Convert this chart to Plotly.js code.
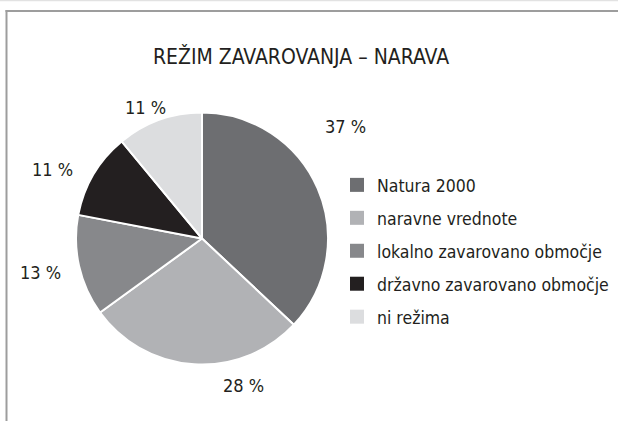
<!DOCTYPE html>
<html>
<head>
<meta charset="utf-8">
<script src="https://cdn.plot.ly/plotly-3.0.1.min.js"></script>
<style>html,body{margin:0;padding:0;background:#fff}#chart{width:618px;height:421px}</style>
</head>
<body>
<div id="chart"></div>
<script>
var categories = ["Natura 2000", "naravne vrednote", "lokalno zavarovano območje", "državno zavarovano območje", "ni režima"];
var shares = [37, 28, 13, 11, 11];
var sliceColors = ["#6d6e71", "#b1b2b5", "#87888b", "#231f20", "#dcdddf"];
var titleText = "REŽIM ZAVAROVANJA – NARAVA";

var FONT = "'Liberation Sans Narrow', 'DejaVu Sans Condensed', Roboto, sans-serif";

// percentage label placement (paper px) for each slice
var labelPos = [[345,126],[243,385],[40,272],[52,169],[145,108]];

var W = 618, H = 421;
var annotations = shares.map(function(v, i){
  return {
    text: v + " %", xref: "paper", yref: "paper",
    x: labelPos[i][0]/W, y: 1 - labelPos[i][1]/H,
    xanchor: "center", yanchor: "middle", showarrow: false,
    font: {family: FONT, size: 18, color: "#231f20"}
  };
});

var pieTrace = {
  type: "pie",
  labels: categories,
  values: shares,
  sort: false,
  direction: "clockwise",
  rotation: 0,
  marker: {colors: sliceColors, line: {color: "#ffffff", width: 2}},
  textinfo: "none",
  hoverinfo: "none",
  showlegend: false,
  domain: {x: [76/W, 328/W], y: [1 - 364.5/H, 1 - 112.5/H]}
};

// legend entries (one per category, same colours as slices)
var legendTraces = categories.map(function(c, i){
  return {
    type: "scatter", mode: "markers", x: [null], y: [null],
    name: c, legendgroup: "g" + i, showlegend: true, hoverinfo: "none",
    marker: {symbol: "square", size: 14, color: sliceColors[i], line: {width: 0}}
  };
});

var layout = {
  width: W, height: H,
  margin: {l: 0, r: 0, t: 0, b: 0, autoexpand: false},
  paper_bgcolor: "#ffffff",
  plot_bgcolor: "rgba(0,0,0,0)",
  showlegend: true,
  xaxis: {visible: false, fixedrange: true},
  yaxis: {visible: false, fixedrange: true},
  title: {text: titleText, x: 301/W, xanchor: "center", y: 1 - 57/H, yanchor: "middle",
          font: {family: FONT, size: 21, color: "#231f20"}},
  legend: {x: 337/W, xanchor: "left", y: 1 - 167/H, yanchor: "top",
           font: {family: FONT, size: 17.5, color: "#231f20"},
           tracegroupgap: 7.2, traceorder: "grouped",
           bgcolor: "rgba(0,0,0,0)", itemclick: false},
  annotations: annotations,
  shapes: [
    {type: "line", xref: "paper", yref: "paper", x0: 0, x1: 1, y0: 1 - 0.5/H, y1: 1 - 0.5/H,
     line: {color: "#e2e2e2", width: 1.5}},
    {type: "line", xref: "paper", yref: "paper", x0: 5.5/W, x1: 1, y0: 1 - 11/H, y1: 1 - 11/H,
     line: {color: "#9d9d9d", width: 2}},
    {type: "line", xref: "paper", yref: "paper", x0: 6.5/W, x1: 6.5/W, y0: 1 - 10/H, y1: 0,
     line: {color: "#9d9d9d", width: 2}}
  ]
};

Plotly.newPlot("chart", [pieTrace].concat(legendTraces), layout, {displayModeBar: false, staticPlot: true});
</script>
</body>
</html>
